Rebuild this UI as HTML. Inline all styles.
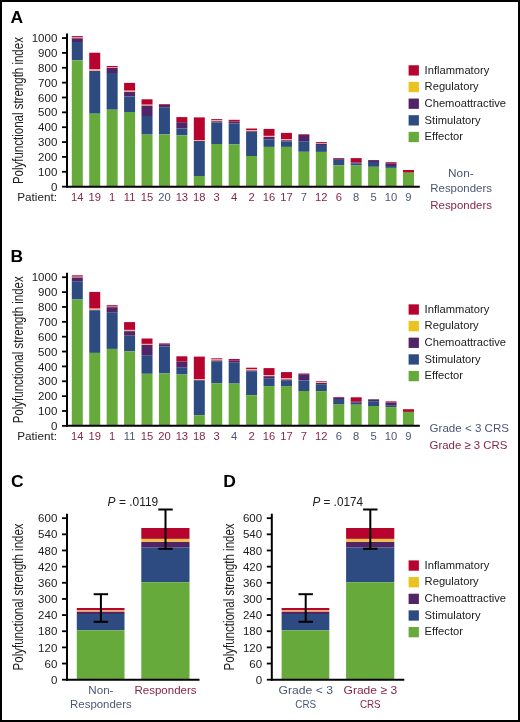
<!DOCTYPE html>
<html><head><meta charset="utf-8"><style>
html,body{margin:0;padding:0;background:#fff;}
body{width:520px;height:722px;overflow:hidden;}
svg{display:block;font-family:"Liberation Sans", sans-serif;fill:#202020;}
#wrap{width:520px;height:722px;will-change:transform;}
</style></head><body><div id="wrap">
<svg width="520" height="722" viewBox="0 0 520 722" fill="#202020">
<rect x="0" y="0" width="520" height="722" fill="#fff"/>
<rect x="1" y="1" width="518" height="720" fill="none" stroke="#000" stroke-width="2"/>
<text x="10.40" y="22.50" font-size="16.0" fill="#000" font-weight="bold" textLength="12.60" lengthAdjust="spacingAndGlyphs">A</text>
<rect x="71.80" y="36.10" width="11.00" height="1.40" fill="#B6042F"/>
<rect x="71.80" y="37.50" width="11.00" height="0.80" fill="#F0AC92"/>
<rect x="71.80" y="38.30" width="11.00" height="3.70" fill="#502466"/>
<rect x="71.80" y="42.00" width="11.00" height="18.30" fill="#2D4B81"/>
<rect x="71.80" y="60.30" width="11.00" height="126.35" fill="#66AA3C"/>
<text x="77.30" y="201.10" font-size="11.2" fill="#86264A" text-anchor="middle">14</text>
<rect x="89.23" y="52.70" width="11.00" height="16.70" fill="#B6042F"/>
<rect x="89.23" y="69.40" width="11.00" height="1.60" fill="#F0AC92"/>
<rect x="89.23" y="71.00" width="11.00" height="42.70" fill="#2D4B81"/>
<rect x="89.23" y="113.70" width="11.00" height="72.95" fill="#66AA3C"/>
<text x="94.73" y="201.10" font-size="11.2" fill="#86264A" text-anchor="middle">19</text>
<rect x="106.66" y="66.00" width="11.00" height="1.50" fill="#B6042F"/>
<rect x="106.66" y="67.50" width="11.00" height="0.50" fill="#F0AC92"/>
<rect x="106.66" y="68.00" width="11.00" height="5.00" fill="#502466"/>
<rect x="106.66" y="73.00" width="11.00" height="36.70" fill="#2D4B81"/>
<rect x="106.66" y="109.70" width="11.00" height="76.95" fill="#66AA3C"/>
<text x="112.16" y="201.10" font-size="11.2" fill="#86264A" text-anchor="middle">1</text>
<rect x="124.09" y="82.90" width="11.00" height="7.80" fill="#B6042F"/>
<rect x="124.09" y="90.70" width="11.00" height="1.30" fill="#F0AC92"/>
<rect x="124.09" y="92.00" width="11.00" height="4.50" fill="#502466"/>
<rect x="124.09" y="96.50" width="11.00" height="15.50" fill="#2D4B81"/>
<rect x="124.09" y="112.00" width="11.00" height="74.65" fill="#66AA3C"/>
<text x="129.59" y="201.10" font-size="11.2" fill="#86264A" text-anchor="middle">11</text>
<rect x="141.52" y="99.30" width="11.00" height="5.40" fill="#B6042F"/>
<rect x="141.52" y="104.70" width="11.00" height="1.00" fill="#F0AC92"/>
<rect x="141.52" y="105.70" width="11.00" height="10.30" fill="#502466"/>
<rect x="141.52" y="116.00" width="11.00" height="18.60" fill="#2D4B81"/>
<rect x="141.52" y="134.60" width="11.00" height="52.05" fill="#66AA3C"/>
<text x="147.02" y="201.10" font-size="11.2" fill="#86264A" text-anchor="middle">15</text>
<rect x="158.95" y="104.20" width="11.00" height="0.80" fill="#B6042F"/>
<rect x="158.95" y="105.00" width="11.00" height="2.20" fill="#502466"/>
<rect x="158.95" y="107.20" width="11.00" height="27.10" fill="#2D4B81"/>
<rect x="158.95" y="134.30" width="11.00" height="52.35" fill="#66AA3C"/>
<text x="164.45" y="201.10" font-size="11.2" fill="#4A5674" text-anchor="middle">20</text>
<rect x="176.38" y="117.10" width="11.00" height="5.10" fill="#B6042F"/>
<rect x="176.38" y="122.20" width="11.00" height="6.30" fill="#502466"/>
<rect x="176.38" y="128.50" width="11.00" height="6.80" fill="#2D4B81"/>
<rect x="176.38" y="135.30" width="11.00" height="51.35" fill="#66AA3C"/>
<text x="181.88" y="201.10" font-size="11.2" fill="#86264A" text-anchor="middle">13</text>
<rect x="193.81" y="117.40" width="11.00" height="22.60" fill="#B6042F"/>
<rect x="193.81" y="140.00" width="11.00" height="1.00" fill="#F0AC92"/>
<rect x="193.81" y="141.00" width="11.00" height="35.00" fill="#2D4B81"/>
<rect x="193.81" y="176.00" width="11.00" height="10.65" fill="#66AA3C"/>
<text x="199.31" y="201.10" font-size="11.2" fill="#86264A" text-anchor="middle">18</text>
<rect x="211.24" y="119.10" width="11.00" height="1.20" fill="#B6042F"/>
<rect x="211.24" y="120.30" width="11.00" height="1.00" fill="#F0AC92"/>
<rect x="211.24" y="121.30" width="11.00" height="1.20" fill="#502466"/>
<rect x="211.24" y="122.50" width="11.00" height="21.50" fill="#2D4B81"/>
<rect x="211.24" y="144.00" width="11.00" height="42.65" fill="#66AA3C"/>
<text x="216.74" y="201.10" font-size="11.2" fill="#86264A" text-anchor="middle">3</text>
<rect x="228.67" y="119.80" width="11.00" height="1.70" fill="#B6042F"/>
<rect x="228.67" y="121.50" width="11.00" height="2.00" fill="#502466"/>
<rect x="228.67" y="123.50" width="11.00" height="20.90" fill="#2D4B81"/>
<rect x="228.67" y="144.40" width="11.00" height="42.25" fill="#66AA3C"/>
<text x="234.17" y="201.10" font-size="11.2" fill="#86264A" text-anchor="middle">4</text>
<rect x="246.10" y="128.50" width="11.00" height="1.60" fill="#B6042F"/>
<rect x="246.10" y="130.10" width="11.00" height="1.20" fill="#F0AC92"/>
<rect x="246.10" y="131.30" width="11.00" height="0.70" fill="#502466"/>
<rect x="246.10" y="132.00" width="11.00" height="24.00" fill="#2D4B81"/>
<rect x="246.10" y="156.00" width="11.00" height="30.65" fill="#66AA3C"/>
<text x="251.60" y="201.10" font-size="11.2" fill="#86264A" text-anchor="middle">2</text>
<rect x="263.53" y="128.90" width="11.00" height="7.00" fill="#B6042F"/>
<rect x="263.53" y="135.90" width="11.00" height="1.10" fill="#F0AC92"/>
<rect x="263.53" y="137.00" width="11.00" height="2.50" fill="#502466"/>
<rect x="263.53" y="139.50" width="11.00" height="7.40" fill="#2D4B81"/>
<rect x="263.53" y="146.90" width="11.00" height="39.75" fill="#66AA3C"/>
<text x="269.03" y="201.10" font-size="11.2" fill="#86264A" text-anchor="middle">16</text>
<rect x="280.96" y="132.90" width="11.00" height="6.10" fill="#B6042F"/>
<rect x="280.96" y="139.00" width="11.00" height="1.30" fill="#F0AC92"/>
<rect x="280.96" y="140.30" width="11.00" height="1.20" fill="#502466"/>
<rect x="280.96" y="141.50" width="11.00" height="5.40" fill="#2D4B81"/>
<rect x="280.96" y="146.90" width="11.00" height="39.75" fill="#66AA3C"/>
<text x="286.46" y="201.10" font-size="11.2" fill="#86264A" text-anchor="middle">17</text>
<rect x="298.39" y="134.30" width="11.00" height="0.70" fill="#B6042F"/>
<rect x="298.39" y="135.00" width="11.00" height="6.20" fill="#502466"/>
<rect x="298.39" y="141.20" width="11.00" height="10.60" fill="#2D4B81"/>
<rect x="298.39" y="151.80" width="11.00" height="34.85" fill="#66AA3C"/>
<text x="303.89" y="201.10" font-size="11.2" fill="#4A5674" text-anchor="middle">7</text>
<rect x="315.82" y="142.10" width="11.00" height="0.90" fill="#B6042F"/>
<rect x="315.82" y="143.00" width="11.00" height="0.80" fill="#F0AC92"/>
<rect x="315.82" y="143.80" width="11.00" height="1.20" fill="#502466"/>
<rect x="315.82" y="145.00" width="11.00" height="6.90" fill="#2D4B81"/>
<rect x="315.82" y="151.90" width="11.00" height="34.75" fill="#66AA3C"/>
<text x="321.32" y="201.10" font-size="11.2" fill="#86264A" text-anchor="middle">12</text>
<rect x="333.25" y="158.00" width="11.00" height="0.80" fill="#B6042F"/>
<rect x="333.25" y="158.80" width="11.00" height="1.00" fill="#502466"/>
<rect x="333.25" y="159.80" width="11.00" height="5.60" fill="#2D4B81"/>
<rect x="333.25" y="165.40" width="11.00" height="21.25" fill="#66AA3C"/>
<text x="338.75" y="201.10" font-size="11.2" fill="#86264A" text-anchor="middle">6</text>
<rect x="350.68" y="158.10" width="11.00" height="4.40" fill="#B6042F"/>
<rect x="350.68" y="162.50" width="11.00" height="1.00" fill="#502466"/>
<rect x="350.68" y="163.50" width="11.00" height="2.00" fill="#2D4B81"/>
<rect x="350.68" y="165.50" width="11.00" height="21.15" fill="#66AA3C"/>
<text x="356.18" y="201.10" font-size="11.2" fill="#4A5674" text-anchor="middle">8</text>
<rect x="368.11" y="160.10" width="11.00" height="1.90" fill="#502466"/>
<rect x="368.11" y="162.00" width="11.00" height="4.80" fill="#2D4B81"/>
<rect x="368.11" y="166.80" width="11.00" height="19.85" fill="#66AA3C"/>
<text x="373.61" y="201.10" font-size="11.2" fill="#4A5674" text-anchor="middle">5</text>
<rect x="385.54" y="162.20" width="11.00" height="1.10" fill="#B6042F"/>
<rect x="385.54" y="163.30" width="11.00" height="2.70" fill="#502466"/>
<rect x="385.54" y="166.00" width="11.00" height="1.90" fill="#2D4B81"/>
<rect x="385.54" y="167.90" width="11.00" height="18.75" fill="#66AA3C"/>
<text x="391.04" y="201.10" font-size="11.2" fill="#4A5674" text-anchor="middle">10</text>
<rect x="402.97" y="170.00" width="11.00" height="2.70" fill="#B6042F"/>
<rect x="402.97" y="172.70" width="11.00" height="13.95" fill="#66AA3C"/>
<text x="408.47" y="201.10" font-size="11.2" fill="#4A5674" text-anchor="middle">9</text>
<line x1="67.00" y1="33.50" x2="67.00" y2="187.65" stroke="#000" stroke-width="2"/>
<line x1="66.00" y1="186.65" x2="419.80" y2="186.65" stroke="#000" stroke-width="2"/>
<line x1="62.00" y1="186.65" x2="67.00" y2="186.65" stroke="#000" stroke-width="1.8"/>
<text x="57.30" y="190.75" font-size="11.5" text-anchor="end">0</text>
<line x1="62.00" y1="171.79" x2="67.00" y2="171.79" stroke="#000" stroke-width="1.8"/>
<text x="57.30" y="175.89" font-size="11.5" text-anchor="end">100</text>
<line x1="62.00" y1="156.93" x2="67.00" y2="156.93" stroke="#000" stroke-width="1.8"/>
<text x="57.30" y="161.03" font-size="11.5" text-anchor="end">200</text>
<line x1="62.00" y1="142.07" x2="67.00" y2="142.07" stroke="#000" stroke-width="1.8"/>
<text x="57.30" y="146.17" font-size="11.5" text-anchor="end">300</text>
<line x1="62.00" y1="127.21" x2="67.00" y2="127.21" stroke="#000" stroke-width="1.8"/>
<text x="57.30" y="131.31" font-size="11.5" text-anchor="end">400</text>
<line x1="62.00" y1="112.35" x2="67.00" y2="112.35" stroke="#000" stroke-width="1.8"/>
<text x="57.30" y="116.45" font-size="11.5" text-anchor="end">500</text>
<line x1="62.00" y1="97.49" x2="67.00" y2="97.49" stroke="#000" stroke-width="1.8"/>
<text x="57.30" y="101.59" font-size="11.5" text-anchor="end">600</text>
<line x1="62.00" y1="82.63" x2="67.00" y2="82.63" stroke="#000" stroke-width="1.8"/>
<text x="57.30" y="86.73" font-size="11.5" text-anchor="end">700</text>
<line x1="62.00" y1="67.77" x2="67.00" y2="67.77" stroke="#000" stroke-width="1.8"/>
<text x="57.30" y="71.87" font-size="11.5" text-anchor="end">800</text>
<line x1="62.00" y1="52.91" x2="67.00" y2="52.91" stroke="#000" stroke-width="1.8"/>
<text x="57.30" y="57.01" font-size="11.5" text-anchor="end">900</text>
<line x1="62.00" y1="38.05" x2="67.00" y2="38.05" stroke="#000" stroke-width="1.8"/>
<text x="57.30" y="42.15" font-size="11.5" text-anchor="end">1000</text>
<text x="17.20" y="201.00" font-size="11.2" textLength="39.80" lengthAdjust="spacingAndGlyphs">Patient:</text>
<text x="0" y="0" font-size="14" text-anchor="middle" textLength="147" lengthAdjust="spacingAndGlyphs" transform="translate(22.60,110.60) rotate(-90)">Polyfunctional strength index</text>
<text x="460.90" y="177.30" font-size="11.6" fill="#4A5674" text-anchor="middle" textLength="25.60" lengthAdjust="spacingAndGlyphs">Non-</text>
<text x="430.30" y="191.50" font-size="11.6" fill="#4A5674" textLength="61.60" lengthAdjust="spacingAndGlyphs">Responders</text>
<text x="430.30" y="209.10" font-size="11.6" fill="#86264A" textLength="61.60" lengthAdjust="spacingAndGlyphs">Responders</text>
<rect x="408.60" y="65.25" width="10.30" height="10.30" fill="#B6042F"/>
<text x="424.60" y="73.60" font-size="11.2">Inflammatory</text>
<rect x="408.60" y="81.90" width="10.30" height="10.30" fill="#ECC21F"/>
<text x="424.60" y="90.25" font-size="11.2">Regulatory</text>
<rect x="408.60" y="98.55" width="10.30" height="10.30" fill="#502466"/>
<text x="424.60" y="106.90" font-size="11.2">Chemoattractive</text>
<rect x="408.60" y="115.20" width="10.30" height="10.30" fill="#2D4B81"/>
<text x="424.60" y="123.55" font-size="11.2">Stimulatory</text>
<rect x="408.60" y="131.85" width="10.30" height="10.30" fill="#66AA3C"/>
<text x="424.60" y="140.20" font-size="11.2">Effector</text>
<text x="10.40" y="261.70" font-size="16.0" fill="#000" font-weight="bold" textLength="12.60" lengthAdjust="spacingAndGlyphs">B</text>
<rect x="71.80" y="275.30" width="11.00" height="1.40" fill="#B6042F"/>
<rect x="71.80" y="276.70" width="11.00" height="0.80" fill="#F0AC92"/>
<rect x="71.80" y="277.50" width="11.00" height="3.70" fill="#502466"/>
<rect x="71.80" y="281.20" width="11.00" height="18.30" fill="#2D4B81"/>
<rect x="71.80" y="299.50" width="11.00" height="126.35" fill="#66AA3C"/>
<text x="77.30" y="440.30" font-size="11.2" fill="#86264A" text-anchor="middle">14</text>
<rect x="89.23" y="291.90" width="11.00" height="16.70" fill="#B6042F"/>
<rect x="89.23" y="308.60" width="11.00" height="1.60" fill="#F0AC92"/>
<rect x="89.23" y="310.20" width="11.00" height="42.70" fill="#2D4B81"/>
<rect x="89.23" y="352.90" width="11.00" height="72.95" fill="#66AA3C"/>
<text x="94.73" y="440.30" font-size="11.2" fill="#86264A" text-anchor="middle">19</text>
<rect x="106.66" y="305.20" width="11.00" height="1.50" fill="#B6042F"/>
<rect x="106.66" y="306.70" width="11.00" height="0.50" fill="#F0AC92"/>
<rect x="106.66" y="307.20" width="11.00" height="5.00" fill="#502466"/>
<rect x="106.66" y="312.20" width="11.00" height="36.70" fill="#2D4B81"/>
<rect x="106.66" y="348.90" width="11.00" height="76.95" fill="#66AA3C"/>
<text x="112.16" y="440.30" font-size="11.2" fill="#86264A" text-anchor="middle">1</text>
<rect x="124.09" y="322.10" width="11.00" height="7.80" fill="#B6042F"/>
<rect x="124.09" y="329.90" width="11.00" height="1.30" fill="#F0AC92"/>
<rect x="124.09" y="331.20" width="11.00" height="4.50" fill="#502466"/>
<rect x="124.09" y="335.70" width="11.00" height="15.50" fill="#2D4B81"/>
<rect x="124.09" y="351.20" width="11.00" height="74.65" fill="#66AA3C"/>
<text x="129.59" y="440.30" font-size="11.2" fill="#4A5674" text-anchor="middle">11</text>
<rect x="141.52" y="338.50" width="11.00" height="5.40" fill="#B6042F"/>
<rect x="141.52" y="343.90" width="11.00" height="1.00" fill="#F0AC92"/>
<rect x="141.52" y="344.90" width="11.00" height="10.30" fill="#502466"/>
<rect x="141.52" y="355.20" width="11.00" height="18.60" fill="#2D4B81"/>
<rect x="141.52" y="373.80" width="11.00" height="52.05" fill="#66AA3C"/>
<text x="147.02" y="440.30" font-size="11.2" fill="#86264A" text-anchor="middle">15</text>
<rect x="158.95" y="343.40" width="11.00" height="0.80" fill="#B6042F"/>
<rect x="158.95" y="344.20" width="11.00" height="2.20" fill="#502466"/>
<rect x="158.95" y="346.40" width="11.00" height="27.10" fill="#2D4B81"/>
<rect x="158.95" y="373.50" width="11.00" height="52.35" fill="#66AA3C"/>
<text x="164.45" y="440.30" font-size="11.2" fill="#86264A" text-anchor="middle">20</text>
<rect x="176.38" y="356.30" width="11.00" height="5.10" fill="#B6042F"/>
<rect x="176.38" y="361.40" width="11.00" height="6.30" fill="#502466"/>
<rect x="176.38" y="367.70" width="11.00" height="6.80" fill="#2D4B81"/>
<rect x="176.38" y="374.50" width="11.00" height="51.35" fill="#66AA3C"/>
<text x="181.88" y="440.30" font-size="11.2" fill="#86264A" text-anchor="middle">13</text>
<rect x="193.81" y="356.60" width="11.00" height="22.60" fill="#B6042F"/>
<rect x="193.81" y="379.20" width="11.00" height="1.00" fill="#F0AC92"/>
<rect x="193.81" y="380.20" width="11.00" height="35.00" fill="#2D4B81"/>
<rect x="193.81" y="415.20" width="11.00" height="10.65" fill="#66AA3C"/>
<text x="199.31" y="440.30" font-size="11.2" fill="#86264A" text-anchor="middle">18</text>
<rect x="211.24" y="358.30" width="11.00" height="1.20" fill="#B6042F"/>
<rect x="211.24" y="359.50" width="11.00" height="1.00" fill="#F0AC92"/>
<rect x="211.24" y="360.50" width="11.00" height="1.20" fill="#502466"/>
<rect x="211.24" y="361.70" width="11.00" height="21.50" fill="#2D4B81"/>
<rect x="211.24" y="383.20" width="11.00" height="42.65" fill="#66AA3C"/>
<text x="216.74" y="440.30" font-size="11.2" fill="#86264A" text-anchor="middle">3</text>
<rect x="228.67" y="359.00" width="11.00" height="1.70" fill="#B6042F"/>
<rect x="228.67" y="360.70" width="11.00" height="2.00" fill="#502466"/>
<rect x="228.67" y="362.70" width="11.00" height="20.90" fill="#2D4B81"/>
<rect x="228.67" y="383.60" width="11.00" height="42.25" fill="#66AA3C"/>
<text x="234.17" y="440.30" font-size="11.2" fill="#4A5674" text-anchor="middle">4</text>
<rect x="246.10" y="367.70" width="11.00" height="1.60" fill="#B6042F"/>
<rect x="246.10" y="369.30" width="11.00" height="1.20" fill="#F0AC92"/>
<rect x="246.10" y="370.50" width="11.00" height="0.70" fill="#502466"/>
<rect x="246.10" y="371.20" width="11.00" height="24.00" fill="#2D4B81"/>
<rect x="246.10" y="395.20" width="11.00" height="30.65" fill="#66AA3C"/>
<text x="251.60" y="440.30" font-size="11.2" fill="#86264A" text-anchor="middle">2</text>
<rect x="263.53" y="368.10" width="11.00" height="7.00" fill="#B6042F"/>
<rect x="263.53" y="375.10" width="11.00" height="1.10" fill="#F0AC92"/>
<rect x="263.53" y="376.20" width="11.00" height="2.50" fill="#502466"/>
<rect x="263.53" y="378.70" width="11.00" height="7.40" fill="#2D4B81"/>
<rect x="263.53" y="386.10" width="11.00" height="39.75" fill="#66AA3C"/>
<text x="269.03" y="440.30" font-size="11.2" fill="#86264A" text-anchor="middle">16</text>
<rect x="280.96" y="372.10" width="11.00" height="6.10" fill="#B6042F"/>
<rect x="280.96" y="378.20" width="11.00" height="1.30" fill="#F0AC92"/>
<rect x="280.96" y="379.50" width="11.00" height="1.20" fill="#502466"/>
<rect x="280.96" y="380.70" width="11.00" height="5.40" fill="#2D4B81"/>
<rect x="280.96" y="386.10" width="11.00" height="39.75" fill="#66AA3C"/>
<text x="286.46" y="440.30" font-size="11.2" fill="#86264A" text-anchor="middle">17</text>
<rect x="298.39" y="373.50" width="11.00" height="0.70" fill="#B6042F"/>
<rect x="298.39" y="374.20" width="11.00" height="6.20" fill="#502466"/>
<rect x="298.39" y="380.40" width="11.00" height="10.60" fill="#2D4B81"/>
<rect x="298.39" y="391.00" width="11.00" height="34.85" fill="#66AA3C"/>
<text x="303.89" y="440.30" font-size="11.2" fill="#86264A" text-anchor="middle">7</text>
<rect x="315.82" y="381.30" width="11.00" height="0.90" fill="#B6042F"/>
<rect x="315.82" y="382.20" width="11.00" height="0.80" fill="#F0AC92"/>
<rect x="315.82" y="383.00" width="11.00" height="1.20" fill="#502466"/>
<rect x="315.82" y="384.20" width="11.00" height="6.90" fill="#2D4B81"/>
<rect x="315.82" y="391.10" width="11.00" height="34.75" fill="#66AA3C"/>
<text x="321.32" y="440.30" font-size="11.2" fill="#86264A" text-anchor="middle">12</text>
<rect x="333.25" y="397.20" width="11.00" height="0.80" fill="#B6042F"/>
<rect x="333.25" y="398.00" width="11.00" height="1.00" fill="#502466"/>
<rect x="333.25" y="399.00" width="11.00" height="5.60" fill="#2D4B81"/>
<rect x="333.25" y="404.60" width="11.00" height="21.25" fill="#66AA3C"/>
<text x="338.75" y="440.30" font-size="11.2" fill="#4A5674" text-anchor="middle">6</text>
<rect x="350.68" y="397.30" width="11.00" height="4.40" fill="#B6042F"/>
<rect x="350.68" y="401.70" width="11.00" height="1.00" fill="#502466"/>
<rect x="350.68" y="402.70" width="11.00" height="2.00" fill="#2D4B81"/>
<rect x="350.68" y="404.70" width="11.00" height="21.15" fill="#66AA3C"/>
<text x="356.18" y="440.30" font-size="11.2" fill="#4A5674" text-anchor="middle">8</text>
<rect x="368.11" y="399.30" width="11.00" height="1.90" fill="#502466"/>
<rect x="368.11" y="401.20" width="11.00" height="4.80" fill="#2D4B81"/>
<rect x="368.11" y="406.00" width="11.00" height="19.85" fill="#66AA3C"/>
<text x="373.61" y="440.30" font-size="11.2" fill="#4A5674" text-anchor="middle">5</text>
<rect x="385.54" y="401.40" width="11.00" height="1.10" fill="#B6042F"/>
<rect x="385.54" y="402.50" width="11.00" height="2.70" fill="#502466"/>
<rect x="385.54" y="405.20" width="11.00" height="1.90" fill="#2D4B81"/>
<rect x="385.54" y="407.10" width="11.00" height="18.75" fill="#66AA3C"/>
<text x="391.04" y="440.30" font-size="11.2" fill="#4A5674" text-anchor="middle">10</text>
<rect x="402.97" y="409.20" width="11.00" height="2.70" fill="#B6042F"/>
<rect x="402.97" y="411.90" width="11.00" height="13.95" fill="#66AA3C"/>
<text x="408.47" y="440.30" font-size="11.2" fill="#4A5674" text-anchor="middle">9</text>
<line x1="67.00" y1="272.70" x2="67.00" y2="426.85" stroke="#000" stroke-width="2"/>
<line x1="66.00" y1="425.85" x2="419.80" y2="425.85" stroke="#000" stroke-width="2"/>
<line x1="62.00" y1="425.85" x2="67.00" y2="425.85" stroke="#000" stroke-width="1.8"/>
<text x="57.30" y="429.95" font-size="11.5" text-anchor="end">0</text>
<line x1="62.00" y1="410.99" x2="67.00" y2="410.99" stroke="#000" stroke-width="1.8"/>
<text x="57.30" y="415.09" font-size="11.5" text-anchor="end">100</text>
<line x1="62.00" y1="396.13" x2="67.00" y2="396.13" stroke="#000" stroke-width="1.8"/>
<text x="57.30" y="400.23" font-size="11.5" text-anchor="end">200</text>
<line x1="62.00" y1="381.27" x2="67.00" y2="381.27" stroke="#000" stroke-width="1.8"/>
<text x="57.30" y="385.37" font-size="11.5" text-anchor="end">300</text>
<line x1="62.00" y1="366.41" x2="67.00" y2="366.41" stroke="#000" stroke-width="1.8"/>
<text x="57.30" y="370.51" font-size="11.5" text-anchor="end">400</text>
<line x1="62.00" y1="351.55" x2="67.00" y2="351.55" stroke="#000" stroke-width="1.8"/>
<text x="57.30" y="355.65" font-size="11.5" text-anchor="end">500</text>
<line x1="62.00" y1="336.69" x2="67.00" y2="336.69" stroke="#000" stroke-width="1.8"/>
<text x="57.30" y="340.79" font-size="11.5" text-anchor="end">600</text>
<line x1="62.00" y1="321.83" x2="67.00" y2="321.83" stroke="#000" stroke-width="1.8"/>
<text x="57.30" y="325.93" font-size="11.5" text-anchor="end">700</text>
<line x1="62.00" y1="306.97" x2="67.00" y2="306.97" stroke="#000" stroke-width="1.8"/>
<text x="57.30" y="311.07" font-size="11.5" text-anchor="end">800</text>
<line x1="62.00" y1="292.11" x2="67.00" y2="292.11" stroke="#000" stroke-width="1.8"/>
<text x="57.30" y="296.21" font-size="11.5" text-anchor="end">900</text>
<line x1="62.00" y1="277.25" x2="67.00" y2="277.25" stroke="#000" stroke-width="1.8"/>
<text x="57.30" y="281.35" font-size="11.5" text-anchor="end">1000</text>
<text x="17.20" y="440.20" font-size="11.2" textLength="39.80" lengthAdjust="spacingAndGlyphs">Patient:</text>
<text x="0" y="0" font-size="14" text-anchor="middle" textLength="147" lengthAdjust="spacingAndGlyphs" transform="translate(22.60,349.80) rotate(-90)">Polyfunctional strength index</text>
<text x="429.60" y="432.00" font-size="11.6" fill="#4A5674" textLength="79.40" lengthAdjust="spacingAndGlyphs">Grade &lt; 3 CRS</text>
<text x="429.60" y="449.20" font-size="11.6" fill="#86264A" textLength="77.80" lengthAdjust="spacingAndGlyphs">Grade ≥ 3 CRS</text>
<rect x="408.60" y="304.35" width="10.30" height="10.30" fill="#B6042F"/>
<text x="424.60" y="312.70" font-size="11.2">Inflammatory</text>
<rect x="408.60" y="321.00" width="10.30" height="10.30" fill="#ECC21F"/>
<text x="424.60" y="329.35" font-size="11.2">Regulatory</text>
<rect x="408.60" y="337.65" width="10.30" height="10.30" fill="#502466"/>
<text x="424.60" y="346.00" font-size="11.2">Chemoattractive</text>
<rect x="408.60" y="354.30" width="10.30" height="10.30" fill="#2D4B81"/>
<text x="424.60" y="362.65" font-size="11.2">Stimulatory</text>
<rect x="408.60" y="370.95" width="10.30" height="10.30" fill="#66AA3C"/>
<text x="424.60" y="379.30" font-size="11.2">Effector</text>
<text x="10.90" y="486.60" font-size="16.0" fill="#000" font-weight="bold" textLength="12.60" lengthAdjust="spacingAndGlyphs">C</text>
<rect x="76.80" y="608.00" width="47.70" height="2.30" fill="#B6042F"/>
<rect x="76.80" y="610.30" width="47.70" height="1.50" fill="#F0B060"/>
<rect x="76.80" y="611.80" width="47.70" height="2.20" fill="#502466"/>
<rect x="76.80" y="614.00" width="47.70" height="16.30" fill="#2D4B81"/>
<rect x="76.80" y="630.30" width="47.70" height="49.40" fill="#66AA3C"/>
<rect x="141.30" y="528.00" width="48.20" height="10.90" fill="#B6042F"/>
<rect x="141.30" y="538.90" width="48.20" height="3.10" fill="#F2C04E"/>
<rect x="141.30" y="542.00" width="48.20" height="5.60" fill="#502466"/>
<rect x="141.30" y="547.60" width="48.20" height="34.60" fill="#2D4B81"/>
<rect x="141.30" y="582.20" width="48.20" height="97.50" fill="#66AA3C"/>
<line x1="100.90" y1="594.20" x2="100.90" y2="621.80" stroke="#000" stroke-width="2"/>
<line x1="93.70" y1="594.20" x2="108.10" y2="594.20" stroke="#000" stroke-width="2"/>
<line x1="93.70" y1="621.80" x2="108.10" y2="621.80" stroke="#000" stroke-width="2"/>
<line x1="165.50" y1="509.50" x2="165.50" y2="548.80" stroke="#000" stroke-width="2"/>
<line x1="158.30" y1="509.50" x2="172.70" y2="509.50" stroke="#000" stroke-width="2"/>
<line x1="158.30" y1="548.80" x2="172.70" y2="548.80" stroke="#000" stroke-width="2"/>
<line x1="67.00" y1="513.70" x2="67.00" y2="680.70" stroke="#000" stroke-width="2"/>
<line x1="66.00" y1="679.70" x2="199.50" y2="679.70" stroke="#000" stroke-width="2"/>
<line x1="62.00" y1="679.70" x2="67.00" y2="679.70" stroke="#000" stroke-width="1.8"/>
<text x="57.30" y="683.80" font-size="11.5" text-anchor="end">0</text>
<line x1="62.00" y1="663.55" x2="67.00" y2="663.55" stroke="#000" stroke-width="1.8"/>
<text x="57.30" y="667.65" font-size="11.5" text-anchor="end">60</text>
<line x1="62.00" y1="647.40" x2="67.00" y2="647.40" stroke="#000" stroke-width="1.8"/>
<text x="57.30" y="651.50" font-size="11.5" text-anchor="end">120</text>
<line x1="62.00" y1="631.24" x2="67.00" y2="631.24" stroke="#000" stroke-width="1.8"/>
<text x="57.30" y="635.34" font-size="11.5" text-anchor="end">180</text>
<line x1="62.00" y1="615.09" x2="67.00" y2="615.09" stroke="#000" stroke-width="1.8"/>
<text x="57.30" y="619.19" font-size="11.5" text-anchor="end">240</text>
<line x1="62.00" y1="598.94" x2="67.00" y2="598.94" stroke="#000" stroke-width="1.8"/>
<text x="57.30" y="603.04" font-size="11.5" text-anchor="end">300</text>
<line x1="62.00" y1="582.79" x2="67.00" y2="582.79" stroke="#000" stroke-width="1.8"/>
<text x="57.30" y="586.89" font-size="11.5" text-anchor="end">360</text>
<line x1="62.00" y1="566.64" x2="67.00" y2="566.64" stroke="#000" stroke-width="1.8"/>
<text x="57.30" y="570.74" font-size="11.5" text-anchor="end">420</text>
<line x1="62.00" y1="550.48" x2="67.00" y2="550.48" stroke="#000" stroke-width="1.8"/>
<text x="57.30" y="554.58" font-size="11.5" text-anchor="end">480</text>
<line x1="62.00" y1="534.33" x2="67.00" y2="534.33" stroke="#000" stroke-width="1.8"/>
<text x="57.30" y="538.43" font-size="11.5" text-anchor="end">540</text>
<line x1="62.00" y1="518.18" x2="67.00" y2="518.18" stroke="#000" stroke-width="1.8"/>
<text x="57.30" y="522.28" font-size="11.5" text-anchor="end">600</text>
<text x="0" y="0" font-size="14" text-anchor="middle" textLength="147" lengthAdjust="spacingAndGlyphs" transform="translate(22.60,596.90) rotate(-90)">Polyfunctional strength index</text>
<text x="107.60" y="506.3" font-size="12.2" textLength="50.6" lengthAdjust="spacingAndGlyphs"><tspan font-style="italic">P</tspan> = .0119</text>
<text x="100.90" y="694.30" font-size="11.6" fill="#4A5674" text-anchor="middle" textLength="25.20" lengthAdjust="spacingAndGlyphs">Non-</text>
<text x="100.90" y="708.20" font-size="11.6" fill="#4A5674" text-anchor="middle" textLength="61.60" lengthAdjust="spacingAndGlyphs">Responders</text>
<text x="165.50" y="694.30" font-size="11.6" fill="#86264A" text-anchor="middle" textLength="62.20" lengthAdjust="spacingAndGlyphs">Responders</text>
<text x="223.20" y="486.60" font-size="16.0" fill="#000" font-weight="bold" textLength="12.60" lengthAdjust="spacingAndGlyphs">D</text>
<rect x="281.60" y="608.00" width="47.70" height="2.30" fill="#B6042F"/>
<rect x="281.60" y="610.30" width="47.70" height="1.50" fill="#F0B060"/>
<rect x="281.60" y="611.80" width="47.70" height="2.20" fill="#502466"/>
<rect x="281.60" y="614.00" width="47.70" height="16.30" fill="#2D4B81"/>
<rect x="281.60" y="630.30" width="47.70" height="49.40" fill="#66AA3C"/>
<rect x="346.10" y="528.00" width="48.20" height="10.90" fill="#B6042F"/>
<rect x="346.10" y="538.90" width="48.20" height="3.10" fill="#F2C04E"/>
<rect x="346.10" y="542.00" width="48.20" height="5.60" fill="#502466"/>
<rect x="346.10" y="547.60" width="48.20" height="34.60" fill="#2D4B81"/>
<rect x="346.10" y="582.20" width="48.20" height="97.50" fill="#66AA3C"/>
<line x1="305.70" y1="594.20" x2="305.70" y2="621.80" stroke="#000" stroke-width="2"/>
<line x1="298.50" y1="594.20" x2="312.90" y2="594.20" stroke="#000" stroke-width="2"/>
<line x1="298.50" y1="621.80" x2="312.90" y2="621.80" stroke="#000" stroke-width="2"/>
<line x1="370.30" y1="509.50" x2="370.30" y2="548.80" stroke="#000" stroke-width="2"/>
<line x1="363.10" y1="509.50" x2="377.50" y2="509.50" stroke="#000" stroke-width="2"/>
<line x1="363.10" y1="548.80" x2="377.50" y2="548.80" stroke="#000" stroke-width="2"/>
<line x1="271.80" y1="513.70" x2="271.80" y2="680.70" stroke="#000" stroke-width="2"/>
<line x1="270.80" y1="679.70" x2="404.30" y2="679.70" stroke="#000" stroke-width="2"/>
<line x1="266.80" y1="679.70" x2="271.80" y2="679.70" stroke="#000" stroke-width="1.8"/>
<text x="262.10" y="683.80" font-size="11.5" text-anchor="end">0</text>
<line x1="266.80" y1="663.55" x2="271.80" y2="663.55" stroke="#000" stroke-width="1.8"/>
<text x="262.10" y="667.65" font-size="11.5" text-anchor="end">60</text>
<line x1="266.80" y1="647.40" x2="271.80" y2="647.40" stroke="#000" stroke-width="1.8"/>
<text x="262.10" y="651.50" font-size="11.5" text-anchor="end">120</text>
<line x1="266.80" y1="631.24" x2="271.80" y2="631.24" stroke="#000" stroke-width="1.8"/>
<text x="262.10" y="635.34" font-size="11.5" text-anchor="end">180</text>
<line x1="266.80" y1="615.09" x2="271.80" y2="615.09" stroke="#000" stroke-width="1.8"/>
<text x="262.10" y="619.19" font-size="11.5" text-anchor="end">240</text>
<line x1="266.80" y1="598.94" x2="271.80" y2="598.94" stroke="#000" stroke-width="1.8"/>
<text x="262.10" y="603.04" font-size="11.5" text-anchor="end">300</text>
<line x1="266.80" y1="582.79" x2="271.80" y2="582.79" stroke="#000" stroke-width="1.8"/>
<text x="262.10" y="586.89" font-size="11.5" text-anchor="end">360</text>
<line x1="266.80" y1="566.64" x2="271.80" y2="566.64" stroke="#000" stroke-width="1.8"/>
<text x="262.10" y="570.74" font-size="11.5" text-anchor="end">420</text>
<line x1="266.80" y1="550.48" x2="271.80" y2="550.48" stroke="#000" stroke-width="1.8"/>
<text x="262.10" y="554.58" font-size="11.5" text-anchor="end">480</text>
<line x1="266.80" y1="534.33" x2="271.80" y2="534.33" stroke="#000" stroke-width="1.8"/>
<text x="262.10" y="538.43" font-size="11.5" text-anchor="end">540</text>
<line x1="266.80" y1="518.18" x2="271.80" y2="518.18" stroke="#000" stroke-width="1.8"/>
<text x="262.10" y="522.28" font-size="11.5" text-anchor="end">600</text>
<text x="0" y="0" font-size="14" text-anchor="middle" textLength="147" lengthAdjust="spacingAndGlyphs" transform="translate(233.90,596.90) rotate(-90)">Polyfunctional strength index</text>
<text x="312.40" y="506.3" font-size="12.2" textLength="50.6" lengthAdjust="spacingAndGlyphs"><tspan font-style="italic">P</tspan> = .0174</text>
<text x="305.70" y="694.30" font-size="11.6" fill="#4A5674" text-anchor="middle" textLength="54.50" lengthAdjust="spacingAndGlyphs">Grade &lt; 3</text>
<text x="305.70" y="708.20" font-size="11.6" fill="#4A5674" text-anchor="middle" textLength="20.80" lengthAdjust="spacingAndGlyphs">CRS</text>
<text x="370.30" y="694.30" font-size="11.6" fill="#86264A" text-anchor="middle" textLength="53.60" lengthAdjust="spacingAndGlyphs">Grade ≥ 3</text>
<text x="370.30" y="708.20" font-size="11.6" fill="#86264A" text-anchor="middle" textLength="20.80" lengthAdjust="spacingAndGlyphs">CRS</text>
<rect x="408.60" y="560.40" width="10.30" height="10.30" fill="#B6042F"/>
<text x="424.60" y="568.75" font-size="11.2">Inflammatory</text>
<rect x="408.60" y="577.05" width="10.30" height="10.30" fill="#ECC21F"/>
<text x="424.60" y="585.40" font-size="11.2">Regulatory</text>
<rect x="408.60" y="593.70" width="10.30" height="10.30" fill="#502466"/>
<text x="424.60" y="602.05" font-size="11.2">Chemoattractive</text>
<rect x="408.60" y="610.35" width="10.30" height="10.30" fill="#2D4B81"/>
<text x="424.60" y="618.70" font-size="11.2">Stimulatory</text>
<rect x="408.60" y="627.00" width="10.30" height="10.30" fill="#66AA3C"/>
<text x="424.60" y="635.35" font-size="11.2">Effector</text>
</svg></div>
</body></html>
